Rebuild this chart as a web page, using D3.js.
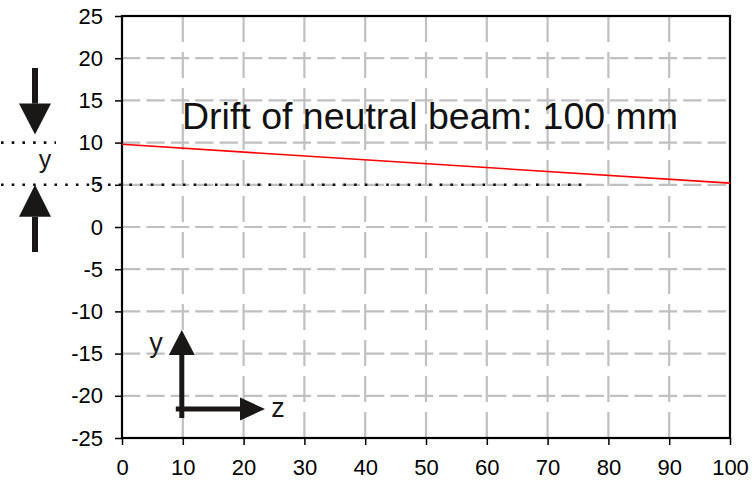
<!DOCTYPE html>
<html>
<head>
<meta charset="utf-8">
<script src="https://cdn.jsdelivr.net/npm/d3@7/dist/d3.min.js"></script>
<style>
  html, body { margin: 0; padding: 0; background: #fff; }
  svg { display: block; font-family: "Liberation Sans", Arial, sans-serif; }
</style>
</head>
<body>
<svg id="chart" width="756" height="483"></svg>
<script>
// Beam height y (mm) along the drift length z (mm)
const zValues = [0, 100];
const yValues = [9.8, 5.2];
const xTicks = [0, 10, 20, 30, 40, 50, 60, 70, 80, 90, 100];
const yTicks = [-25, -20, -15, -10, -5, 0, 5, 10, 15, 20, 25];
const refLevels = [10, 5];        // dotted levels marking the drift "y"
const refEndZ = 76;               // lower dotted level runs into the plot up to here
const title = "Drift of neutral beam: 100 mm";

const svg = d3.select("#chart");
const m = { left: 122, right: 26, top: 16, bottom: 45 };
const W = 756, H = 483;

const x = d3.scaleLinear().domain([0, 100]).range([m.left, W - m.right]);
const y = d3.scaleLinear().domain([-25, 25]).range([H - m.bottom, m.top]);

// grid
const grid = svg.append("g").attr("stroke", "#c0c0c0").attr("stroke-width", 2.2);
grid.selectAll("line.h").data(yTicks.filter(v => v > -25 && v < 25)).join("line")
  .attr("x1", x(0)).attr("x2", x(100))
  .attr("y1", d => y(d)).attr("y2", d => y(d))
  .attr("stroke-dasharray", "18.3,6.1");
grid.selectAll("line.v").data(xTicks.filter(v => v > 0 && v < 100)).join("line")
  .attr("x1", d => x(d)).attr("x2", d => x(d))
  .attr("y1", y(25)).attr("y2", y(-25))
  .attr("stroke-dasharray", "26,10");

// axes
const fontSize = 22;
const fmt = d => String(d);   // plain hyphen for negatives
const yAxis = svg.append("g").attr("transform", `translate(${x(0)},0)`)
  .call(d3.axisLeft(y).tickValues(yTicks).tickSize(7).tickPadding(12).tickFormat(fmt));
const xAxis = svg.append("g").attr("transform", `translate(0,${y(-25)})`)
  .call(d3.axisBottom(x).tickValues(xTicks).tickSize(7).tickPadding(14).tickFormat(fmt));
[yAxis, xAxis].forEach(a => {
  a.select(".domain").remove();
  a.selectAll(".tick line").attr("stroke", "#000").attr("stroke-width", 1.5);
  a.selectAll(".tick text").attr("fill", "#000")
    .style("font-family", "'Liberation Sans', Arial, sans-serif")
    .style("font-size", fontSize + "px");
});
xAxis.selectAll(".tick text").attr("dy", "0.72em");

// frame
svg.append("rect")
  .attr("x", x(0)).attr("y", y(25))
  .attr("width", x(100) - x(0)).attr("height", y(-25) - y(25))
  .attr("fill", "none").attr("stroke", "#000").attr("stroke-width", 2.2);

// dotted reference levels
const dots = "2.6,8.1";
svg.append("line")
  .attr("x1", 1).attr("x2", 56)
  .attr("y1", y(refLevels[0])).attr("y2", y(refLevels[0]))
  .attr("stroke", "#111").attr("stroke-width", 2.6).attr("stroke-dasharray", dots);
svg.append("line")
  .attr("x1", 1).attr("x2", x(refEndZ) + 2)
  .attr("y1", y(refLevels[1])).attr("y2", y(refLevels[1]))
  .attr("stroke", "#111").attr("stroke-width", 2.6).attr("stroke-dasharray", dots);

// beam line
const line = d3.line().x((d, i) => x(zValues[i])).y(d => y(d));
svg.append("path").datum(yValues)
  .attr("d", line)
  .attr("fill", "none").attr("stroke", "#ff0000").attr("stroke-width", 1.6);

// title
svg.append("text")
  .attr("x", 182).attr("y", 129)
  .attr("fill", "#111")
  .style("font-size", "37.5px")
  .text(title);

// arrows pointing at the two levels
const ink = "#1a1717";
function vArrow(cx, tipY, baseY, endY, headW, shaftW) {
  const g = svg.append("g").attr("fill", ink);
  g.append("rect").attr("x", cx - shaftW / 2).attr("width", shaftW)
    .attr("y", Math.min(baseY, endY)).attr("height", Math.abs(endY - baseY));
  g.append("path").attr("d", `M${cx - headW / 2},${baseY}L${cx + headW / 2},${baseY}L${cx},${tipY}Z`);
}
function hArrow(cy, tipX, baseX, startX, headH, shaftW) {
  const g = svg.append("g").attr("fill", ink);
  g.append("rect").attr("y", cy - shaftW / 2).attr("height", shaftW)
    .attr("x", startX).attr("width", baseX - startX);
  g.append("path").attr("d", `M${baseX},${cy - headH / 2}L${baseX},${cy + headH / 2}L${tipX},${cy}Z`);
}

const topTip = y(refLevels[0]) - 8;
vArrow(35, topTip, topTip - 31, 68, 32, 6);
const botTip = y(refLevels[1]);
vArrow(35, botTip, botTip + 32, 252, 32, 6);
svg.append("text").attr("x", 45).attr("y", 168).attr("text-anchor", "middle")
  .attr("fill", ink).style("font-size", "25px").text("y");

// coordinate system sketch
const ox = x(10) - 1, oy = 409;
vArrow(ox, 330, 355, oy + 9, 26, 5);
hArrow(oy, 265, 240, ox - 6, 23, 5);
svg.append("text").attr("x", 156).attr("y", 352).attr("text-anchor", "middle")
  .attr("fill", ink).style("font-size", "27px").text("y");
svg.append("text").attr("x", 278).attr("y", 417).attr("text-anchor", "middle")
  .attr("fill", ink).style("font-size", "27px").text("z");
</script>
</body>
</html>
